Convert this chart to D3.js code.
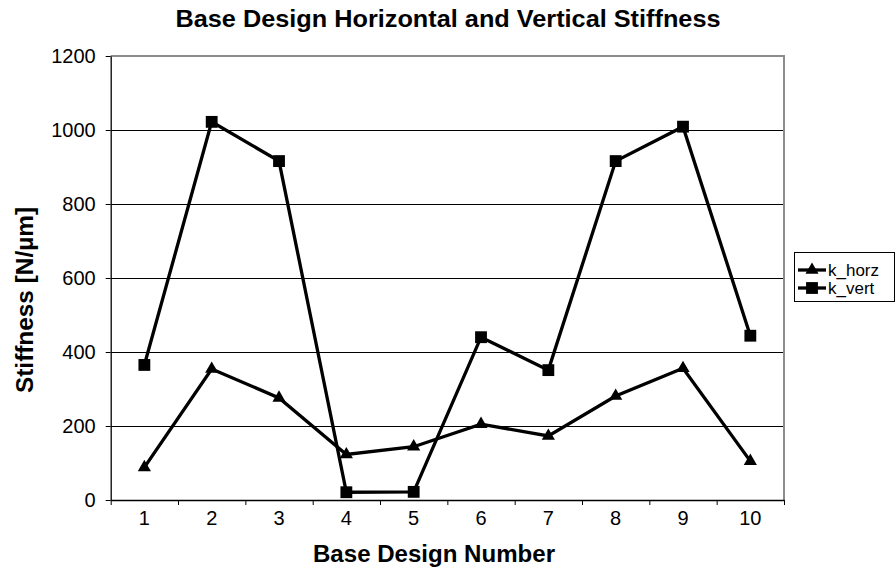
<!DOCTYPE html>
<html><head><meta charset="utf-8">
<script src="https://cdn.jsdelivr.net/npm/d3@7"></script>
<style>
html,body{margin:0;padding:0;background:#fff;}
text{font-family:"Liberation Sans",Arial,sans-serif;fill:#000;}
</style></head>
<body>
<svg id="chart" width="896" height="572"></svg>
<script>
const categories = ["1","2","3","4","5","6","7","8","9","10"];
const kHorz = [88, 354, 276, 123, 144, 205, 173, 281, 356, 105];
const kVert = [365, 1022, 916, 21, 22, 440, 351, 916, 1009, 444];
const yTicks = [0, 200, 400, 600, 800, 1000, 1200];
const seriesNames = ["k_horz", "k_vert"];

const svg = d3.select("#chart");
const L = 110.7, R = 784, T = 56, B = 500;

const x = d3.scaleBand().domain(categories).range([L, R]).paddingInner(0).paddingOuter(0);
const xb = d3.scaleLinear().domain([0, categories.length]).range([L, R]);
const y = d3.scaleLinear().domain([0, 1200]).range([B, T]);

// gridlines
svg.append("g").selectAll("line").data(yTicks.filter(d => d > 0 && d < 1200)).join("line")
  .attr("x1", L).attr("x2", R).attr("y1", d => y(d)).attr("y2", d => y(d))
  .attr("stroke", "#000").attr("stroke-width", 1).attr("shape-rendering", "crispEdges");

// plot border top/right (gray)
svg.append("path")
  .attr("d", `M${L},${y(1200)}H${R}V${B}`)
  .attr("fill", "none").attr("stroke", "#8c8c8c").attr("stroke-width", 2);

// y axis
const yAxis = svg.append("g").attr("transform", `translate(${L},0)`)
  .call(d3.axisLeft(y).tickValues(yTicks).tickFormat(d3.format("d")).tickSize(5).tickPadding(10).tickSizeOuter(0));
yAxis.selectAll("text").attr("font-size", 20).attr("font-family", "Liberation Sans, Arial, sans-serif");
yAxis.select(".domain").attr("stroke", "#000").attr("stroke-width", 1.3);

// x axis ticks at boundaries
const xTickAxis = svg.append("g").attr("transform", `translate(0,${B})`)
  .call(d3.axisBottom(xb).tickValues(d3.range(0, categories.length + 1)).tickSize(5).tickSizeOuter(0).tickFormat(""));
xTickAxis.select(".domain").attr("stroke", "#000").attr("stroke-width", 1.3);

// x labels at centers
const xLab = svg.append("g").attr("transform", `translate(0,${B})`)
  .call(d3.axisBottom(x).tickSize(0).tickPadding(11));
xLab.select(".domain").remove();
xLab.selectAll("text").attr("font-size", 20).attr("font-family", "Liberation Sans, Arial, sans-serif");

// lines
const line = d3.line().x((d, i) => x(categories[i]) + x.bandwidth() / 2).y(d => y(d));
[kHorz, kVert].forEach(s => {
  svg.append("path").datum(s).attr("d", line)
    .attr("fill", "none").attr("stroke", "#000").attr("stroke-width", 3.3).attr("stroke-linejoin", "miter");
});

const tri = d3.symbol().type(d3.symbolTriangle).size(75);
const sq = d3.symbol().type(d3.symbolSquare).size(140);

svg.append("g").selectAll("path").data(kHorz).join("path")
  .attr("d", tri)
  .attr("transform", (d, i) => `translate(${x(categories[i]) + x.bandwidth() / 2},${y(d)})`)
  .attr("fill", "#000");
svg.append("g").selectAll("path").data(kVert).join("path")
  .attr("d", sq)
  .attr("transform", (d, i) => `translate(${x(categories[i]) + x.bandwidth() / 2},${y(d)})`)
  .attr("fill", "#000");

// title
svg.append("text").attr("x", 448).attr("y", 27).attr("text-anchor", "middle")
  .attr("font-size", 23.5).attr("font-weight", "bold")
  .attr("textLength", 545).attr("lengthAdjust", "spacingAndGlyphs")
  .text("Base Design Horizontal and Vertical Stiffness");

// axis titles
svg.append("text").attr("x", 434).attr("y", 562).attr("text-anchor", "middle")
  .attr("font-size", 23).attr("font-weight", "bold")
  .attr("textLength", 242).attr("lengthAdjust", "spacingAndGlyphs")
  .text("Base Design Number");
svg.append("text").attr("transform", `translate(33,300) rotate(-90)`)
  .attr("text-anchor", "middle").attr("font-size", 23).attr("font-weight", "bold")
  .attr("textLength", 186).attr("lengthAdjust", "spacingAndGlyphs")
  .text("Stiffness [N/µm]");

// legend
const lg = svg.append("g");
lg.append("rect").attr("x", 794.5).attr("y", 252.5).attr("width", 100).attr("height", 49)
  .attr("fill", "#fff").attr("stroke", "#000").attr("stroke-width", 1);
seriesNames.forEach((name, i) => {
  const cy = 270 + i * 18;
  lg.append("line").attr("x1", 798).attr("x2", 826).attr("y1", cy).attr("y2", cy)
    .attr("stroke", "#000").attr("stroke-width", 3.3);
  lg.append("path").attr("d", i === 0 ? tri : sq)
    .attr("transform", `translate(812,${cy})`).attr("fill", "#000");
  lg.append("text").attr("x", 828).attr("y", cy).attr("dy", "0.35em")
    .attr("font-size", 17).text(name);
});
</script>
</body></html>
